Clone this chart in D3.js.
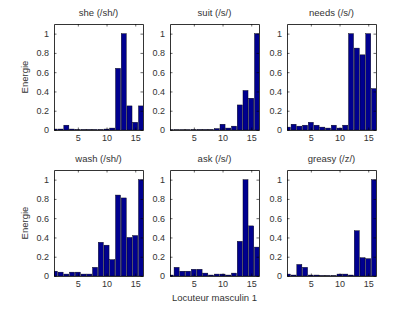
<!DOCTYPE html>
<html lang='en'>
    <head>
        <script src="https://d3js.org/d3.v7.min.js"></script>
        <style>
            body { margin:0; background:#fff; }
            svg { font-family: "Liberation Sans", Arial, sans-serif; }
            .tick text { fill:#333; font-size:9px; }
        </style>
    </head>
    <body>
        <svg id="chart" width="414" height="311"></svg>
    </body>
<script>
// speakers 1..16
var speakers = d3.range(1, 17);
var titles = ["she (/sh/)", "suit (/s/)", "needs (/s/)", "wash (/sh/)", "ask (/s/)", "greasy (/z/)"];
var she    = [0.01,0.01,0.05,0.01,0.005,0.005,0.005,0.005,0.005,0.01,0.02,0.64,1.0,0.25,0.08,0.25];
var suit   = [0.003,0.003,0.003,0.003,0.005,0.005,0.005,0.005,0.015,0.06,0.02,0.04,0.26,0.41,0.33,1.0];
var needs  = [0.03,0.06,0.04,0.05,0.08,0.05,0.03,0.02,0.05,0.02,0.05,1.0,0.85,0.78,1.0,0.43];
var wash   = [0.05,0.04,0.02,0.04,0.04,0.02,0.02,0.09,0.35,0.32,0.17,0.84,0.81,0.40,0.42,1.0];
var ask    = [0.01,0.09,0.05,0.05,0.07,0.07,0.03,0.01,0.02,0.02,0.01,0.03,0.36,1.0,0.52,0.30];
var greasy = [0.02,0.01,0.12,0.09,0.01,0.01,0.005,0.005,0.005,0.02,0.02,0.01,0.47,0.19,0.18,1.0];
var series = [she, suit, needs, wash, ask, greasy];
var xTicks = [5, 10, 15];
var yTicks = [0, 0.2, 0.4, 0.6, 0.8, 1];

var svg = d3.select('#chart');
var colLeft = [54, 170, 287];
var rowTop = [24, 170];
var w = 89, h = 106;

series.forEach(function(vals, i) {
    var col = i % 3, row = Math.floor(i / 3);
    var g = svg.append('g')
        .attr('transform', `translate(${colLeft[col]},${rowTop[row]})`);
    var x = d3.scaleLinear().domain([0.85, 16.35]).range([0, w]);
    var y = d3.scaleLinear().domain([0, 1.1]).range([h, 0]);
    var bw = (x(2) - x(1)) * 0.88;

    g.append('clipPath').attr('id', 'clip' + i)
        .append('rect').attr('width', w).attr('height', h);

    g.append('g').attr('clip-path', `url(#clip${i})`)
        .selectAll('rect')
        .data(vals)
        .enter()
        .append('rect')
        .attr('x', (d, k) => x(speakers[k]) - bw / 2)
        .attr('y', d => y(d))
        .attr('width', bw)
        .attr('height', d => h - y(d))
        .attr('fill', '#00008f')
        .attr('stroke', '#000')
        .attr('stroke-width', 0.4);

    // axes, matlab style ticks inward
    g.append('g').attr('transform', `translate(0,${h})`)
        .call(d3.axisBottom(x).tickValues(xTicks).tickSizeInner(-2.5).tickSizeOuter(0).tickPadding(5));
    g.append('g')
        .call(d3.axisLeft(y).tickValues(yTicks).tickSizeInner(-2.5).tickSizeOuter(0).tickPadding(5).tickFormat(d3.format('')));
    g.append('g').call(d3.axisTop(x).tickValues(xTicks).tickSizeInner(-2.5).tickSizeOuter(0).tickFormat(''));
    g.append('g').attr('transform', `translate(${w},0)`)
        .call(d3.axisRight(y).tickValues(yTicks).tickSizeInner(-2.5).tickSizeOuter(0).tickFormat(''));
    g.selectAll('.domain').attr('stroke', '#000').attr('stroke-width', 0.8);
    g.selectAll('.tick line').attr('stroke', '#000').attr('stroke-width', 0.6);

    g.append('text')
        .attr('x', w / 2).attr('y', -8)
        .attr('text-anchor', 'middle')
        .attr('font-size', 9.5).attr('fill', '#333')
        .text(titles[i]);

    if (col == 0) {
        g.append('text')
            .attr('transform', `translate(-26,${h / 2}) rotate(-90)`)
            .attr('text-anchor', 'middle')
            .attr('font-size', 9.5).attr('fill', '#333')
            .text('Energie');
    }
    if (i == 4) {
        g.append('text')
            .attr('x', w / 2).attr('y', h + 25)
            .attr('text-anchor', 'middle')
            .attr('font-size', 9.5).attr('fill', '#333')
            .text('Locuteur masculin 1');
    }
});
</script>
</html>
